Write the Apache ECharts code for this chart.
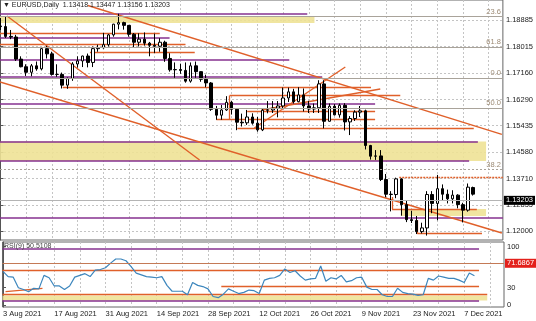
<!DOCTYPE html>
<html><head><meta charset="utf-8">
<script src="https://cdn.jsdelivr.net/npm/echarts@6/dist/echarts.min.js"></script>
<style>html,body{margin:0;padding:0;background:#fff}#c{width:536px;height:321px}</style>
</head><body><div id="c"></div>
<script>
// ---------- DATA (bar index 0 = 3 Aug 2021, daily bars) ----------
const xTickLabels = ['3 Aug 2021','17 Aug 2021','31 Aug 2021','14 Sep 2021','28 Sep 2021','12 Oct 2021','26 Oct 2021','9 Nov 2021','23 Nov 2021','7 Dec 2021'];
const priceTicks = [1.18885,1.18015,1.17160,1.16290,1.15435,1.14580,1.13710,1.12855,1.12000];
const rsiTicks = [0,30,100];

const opens = [1.1869,1.1867,1.1835,1.1833,1.1761,1.1736,1.1718,1.1739,1.1729,1.1795,
1.1778,1.1711,1.1711,1.1676,1.1698,1.1745,1.1755,1.1771,1.1750,1.1795,
1.1798,1.1808,1.1840,1.1875,1.1880,1.1871,1.1842,1.1816,1.1826,1.1813,
1.1806,1.1803,1.1816,1.1763,1.1726,1.1727,1.1724,1.1689,1.1739,1.1720,
1.1695,1.1683,1.1597,1.1578,1.1595,1.1620,1.1597,1.1555,1.1553,1.1572,
1.1552,1.1530,1.1594,1.1595,1.1601,1.1608,1.1634,1.1654,1.1622,1.1644,
1.1608,1.1598,1.1602,1.1680,1.1558,1.1607,1.1579,1.1610,1.1556,1.1567,
1.1588,1.1592,1.1479,1.1444,1.1445,1.1368,1.1320,1.1319,1.1370,1.1286,
1.1237,1.1234,1.1198,1.1210,1.1319,1.1290,1.1338,1.1320,1.1305,1.1317,
1.1286,1.1268,1.13418];
const highs = [1.1895,1.1900,1.1856,1.1840,1.1770,1.1744,1.1745,1.1753,1.1800,1.1804,
1.1785,1.1744,1.1717,1.1701,1.1751,1.1770,1.1772,1.1779,1.1802,1.1808,
1.1846,1.1843,1.1876,1.1909,1.1883,1.1872,1.1846,1.1845,1.1848,1.1817,
1.1844,1.1829,1.1821,1.1780,1.1750,1.1746,1.1750,1.1750,1.1753,1.1721,
1.1710,1.1686,1.1608,1.1611,1.1640,1.1624,1.1601,1.1583,1.1595,1.1584,
1.1572,1.1599,1.1624,1.1624,1.1624,1.1668,1.1668,1.1664,1.1669,1.1665,
1.1625,1.1616,1.1692,1.1692,1.1616,1.1614,1.1616,1.1617,1.1575,1.1594,
1.1608,1.1596,1.1481,1.1464,1.1464,1.1386,1.1330,1.1374,1.1372,1.1300,
1.1266,1.1249,1.1227,1.1330,1.1330,1.1383,1.1352,1.1335,1.1333,1.1320,
1.1292,1.1355,1.13447];
const lows = [1.1856,1.1830,1.1826,1.1755,1.1734,1.1706,1.1705,1.1723,1.1724,1.1763,
1.1707,1.1703,1.1665,1.1664,1.1690,1.1733,1.1735,1.1734,1.1735,1.1785,
1.1795,1.1802,1.1834,1.1858,1.1857,1.1834,1.1800,1.1802,1.1805,1.1770,
1.1781,1.1785,1.1752,1.1720,1.1700,1.1713,1.1684,1.1684,1.1700,1.1687,
1.1669,1.1592,1.1563,1.1563,1.1592,1.1580,1.1529,1.1541,1.1546,1.1547,
1.1524,1.1526,1.1584,1.1585,1.1571,1.1601,1.1621,1.1616,1.1620,1.1590,
1.1585,1.1585,1.1585,1.1535,1.1557,1.1577,1.1570,1.1528,1.1513,1.1559,
1.1572,1.1466,1.1433,1.1432,1.1363,1.1310,1.1264,1.1307,1.1250,1.1229,
1.1226,1.1190,1.1192,1.1185,1.1258,1.1235,1.1300,1.1290,1.1290,1.1274,
1.1228,1.1263,1.13156];
const closes = [1.1867,1.1835,1.1833,1.1761,1.1736,1.1718,1.1739,1.1729,1.1795,1.1778,
1.1711,1.1711,1.1676,1.1698,1.1745,1.1755,1.1771,1.1750,1.1795,1.1798,
1.1808,1.1840,1.1875,1.1880,1.1871,1.1842,1.1816,1.1826,1.1813,1.1806,
1.1803,1.1816,1.1763,1.1726,1.1727,1.1724,1.1689,1.1739,1.1720,1.1695,
1.1683,1.1597,1.1578,1.1595,1.1620,1.1597,1.1555,1.1553,1.1572,1.1552,
1.1530,1.1594,1.1595,1.1601,1.1608,1.1634,1.1654,1.1622,1.1644,1.1608,
1.1598,1.1602,1.1680,1.1558,1.1607,1.1579,1.1610,1.1556,1.1567,1.1588,
1.1592,1.1479,1.1444,1.1445,1.1368,1.1320,1.1319,1.1370,1.1286,1.1237,
1.1234,1.1198,1.1210,1.1319,1.1290,1.1338,1.1320,1.1305,1.1317,1.1286,
1.1268,1.1343,1.13203];
const rsi9 = [58,49,48,30,27,23,29,28,51,47,
33,33,27,33,48,51,54,49,60,61,
64,72,79,79,76,66,55,52,49,48,
47,49,34,24,24,24,18,39,34,32,
28,15,13,19,28,24,20,22,26,25,
20,43,46,47,51,62,56,59,50,43,
45,46,67,41,47,45,51,40,42,47,
48,31,27,27,18,15,15,29,22,20,
19,17,18,46,43,50,48,46,46,43,
39,55,50.5108];

// drawn objects (bar index, price)
const purpleLevels = [[-0.1,59.7,1.19081],[-0.1,32.9,1.18298],[-0.1,56.2,1.17580],[-0.1,62.6,1.17025],
  [-0.1,72.9,1.16167],[-0.1,92.9,1.14920],[-0.1,91.2,1.14284],[-0.1,97.77,1.12424]];
const orangeLevels = [[-0.1,31.0,1.18451],[-0.1,36.0,1.18102],[17.4,37.8,1.17841],[12.1,72.1,1.16682],
  [44.6,77.8,1.16421],[48.0,72.9,1.15916],[42.0,72.9,1.15645],[46.1,92.1,1.15338],
  [76.2,92.7,1.12718],[81.1,93.7,1.11918]];
const orangeDotted = [[77.6,97.77,1.13746]];
const orangeVerticals = [[44.6,1.16421,1.15645],[76.2,1.13109,1.12718],[81.1,1.12359,1.11918]];
const trendLines = [[1.26,1.19016,38.74,1.14317],[-0.1,1.16862,97.57,1.11935],[17.0,1.19358,97.57,1.15155],
  [49.4,1.15361,67.1,1.17352],[50.8,1.15948,73.9,1.16633]];
const fibLevels = [[1.18582,'23.6'],[1.18255,'61.8'],[1.17090,'0.0'],[1.16014,'50.0'],[1.13746,'38.2']];
const zones = [[-0.1,61.1,1.19016,1.18787],[-0.1,94.5,1.14920,1.14284],[77.9,94.5,1.12718,1.12489]];
const rsiPurple = [[-0.1,92.9,96],[-0.1,92.9,7.3]];
const rsiOrange = [[-0.1,92.9,60.2],[42.6,92.9,32],[-0.1,94.5,18.8]];
const rsiSlant = [[0.5,23.2,7.7,29]];
const rsiZones = [[-0.1,94.5,16.7,8.2]];
const rsiLevel = 71.6867;

// ---------- LAYOUT / STYLE ----------
const X_MIN = -0.1, X_MAX = 97.77;
const FONT = 'Liberation Sans, Arial, sans-serif';
const C = {purple:'#86308f', orange:'#e0602a', yellow:'rgba(238,226,150,0.9)', fib:'#a9a39a',
  grid:'#c4c4c4', rsi:'#3c86bd', brown:'#c47a56', text:'#222'};
const gridBars = []; for (let b = 0; b <= 95; b += 5) gridBars.push(b);
const labelBars = xTickLabels.map((_, k) => k * 10);

const candleData = opens.map((o, i) => [i, o, closes[i], lows[i], highs[i]]);
const rsiData = rsi9.map((v, i) => [i, v]);

function hSeg(list, color, extra) {
  return list.map(([s, e, p]) => ({coords: [[s, p], [e, p]], lineStyle: Object.assign({color, opacity: 1}, extra || {})}));
}
const mainLines = [].concat(
  hSeg(purpleLevels, C.purple, {width: 1.5}),
  hSeg(orangeLevels, C.orange, {width: 1.3}),
  hSeg(orangeDotted, C.orange, {width: 1.3, type: [2, 1]}),
  orangeVerticals.map(([b, p1, p2]) => ({coords: [[b, p1], [b, p2]], lineStyle: {color: C.orange, width: 1.3, opacity: 1}})),
  trendLines.map(([b1, p1, b2, p2]) => ({coords: [[b1, p1], [b2, p2]], lineStyle: {color: C.orange, width: 1.4, opacity: 1}}))
);
const rsiLinesData = [].concat(
  hSeg(rsiPurple, C.purple, {width: 1.5}),
  hSeg(rsiOrange, C.orange, {width: 1.3}),
  rsiSlant.map(([b1, v1, b2, v2]) => ({coords: [[b1, v1], [b2, v2]], lineStyle: {color: C.orange, width: 1.3, opacity: 1}}))
);

function zoneSeries(data, xi, yi) {
  return {type: 'custom', xAxisIndex: xi, yAxisIndex: yi, z: 1, silent: true, data,
    encode: {x: [0, 1], y: [2, 3]},
    renderItem(params, api) {
      const a = api.coord([api.value(0), api.value(2)]);
      const b = api.coord([api.value(1), api.value(3)]);
      return {type: 'rect', shape: {x: a[0], y: a[1], width: b[0] - a[0], height: b[1] - a[1]}, style: {fill: C.yellow}};
    }};
}

const chart = echarts.init(document.getElementById('c'));
const axisFont = {fontSize: 7.5, color: C.text, fontFamily: FONT};
chart.setOption({
  animation: false,
  backgroundColor: '#ffffff',
  grid: [
    {left: 0, right: 32, top: 0, height: 240, show: true, borderColor: '#666', borderWidth: 1},
    {left: 0, right: 32, top: 242, height: 65, show: true, borderColor: '#666', borderWidth: 1}
  ],
  xAxis: [
    {type: 'value', gridIndex: 0, min: X_MIN, max: X_MAX, axisLine: {show: false},
      axisTick: {show: false, customValues: gridBars}, axisLabel: {show: false},
      splitLine: {show: true, lineStyle: {color: C.grid, type: [2, 2], width: 1}}},
    {type: 'value', gridIndex: 1, min: X_MIN, max: X_MAX, axisLine: {show: false},
      axisTick: {show: false, customValues: gridBars},
      axisLabel: Object.assign({show: true, customValues: labelBars, align: 'left', margin: 3,
        formatter: v => xTickLabels[Math.round(v / 10)] || ''}, axisFont),
      splitLine: {show: true, lineStyle: {color: C.grid, type: [2, 2], width: 1}}}
  ],
  yAxis: [
    {type: 'value', gridIndex: 0, position: 'right', min: 1.11706, max: 1.19538, scale: true,
      axisLine: {show: true, lineStyle: {color: '#555'}},
      axisTick: {show: true, length: 3, customValues: priceTicks, lineStyle: {color: '#555'}},
      axisLabel: Object.assign({customValues: priceTicks, margin: 3, formatter: v => v.toFixed(5)}, axisFont),
      splitLine: {show: true, lineStyle: {color: C.grid, type: [2, 2], width: 1}}},
    {type: 'value', gridIndex: 1, position: 'right', min: -2.9, max: 108,
      axisLine: {show: true, lineStyle: {color: '#555'}},
      axisTick: {show: true, length: 3, customValues: rsiTicks, lineStyle: {color: '#555'}},
      axisLabel: Object.assign({customValues: rsiTicks, margin: 3, formatter: v => String(v)}, axisFont),
      splitLine: {show: false}}
  ],
  graphic: [
    {type: 'text', left: 3, top: 2, z: 100, style: {text: '\u25BC EURUSD,Daily  1.13418 1.13447 1.13156 1.13203',
      fontSize: 7, fontFamily: FONT, fill: '#222'}},
    {type: 'text', left: 4, top: 243, z: 100, style: {text: 'RSI(9) 50.5108', fontSize: 7, fontFamily: FONT, fill: '#444'}}
  ],
  series: [
    zoneSeries(zones, 0, 0),
    zoneSeries(rsiZones, 1, 1),
    {type: 'lines', coordinateSystem: 'cartesian2d', xAxisIndex: 0, yAxisIndex: 0, z: 2, silent: true,
      polyline: false, lineStyle: {opacity: 1}, data: mainLines},
    {type: 'lines', coordinateSystem: 'cartesian2d', xAxisIndex: 1, yAxisIndex: 1, z: 2, silent: true,
      polyline: false, lineStyle: {opacity: 1}, data: rsiLinesData},
    {type: 'candlestick', xAxisIndex: 0, yAxisIndex: 0, z: 3, barWidth: 3,
      encode: {x: 0, y: [1, 2, 3, 4]}, data: candleData,
      itemStyle: {color: '#ffffff', color0: '#000000', borderColor: '#000000', borderColor0: '#000000', borderWidth: 1},
      markLine: {silent: true, symbol: ['none', 'none'], animation: false,
        data: fibLevels.map(([p, t]) => ({yAxis: p,
          lineStyle: {color: C.fib, width: 1, type: t === '38.2' ? [2, 2] : 'solid'},
          label: {show: true, position: 'insideEndTop', formatter: t, distance: [2, 1], fontSize: 7.5, fontFamily: FONT, color: '#9c8a74'}}))
          .concat([{yAxis: closes[closes.length - 1], lineStyle: {color: '#b4b4b4', width: 1, type: 'solid'},
            label: {show: true, position: 'end', distance: 1, formatter: closes[closes.length - 1].toFixed(5),
              backgroundColor: '#000', color: '#fff', padding: [1, 2, 0, 2], fontSize: 7.5, fontFamily: FONT}}])
      }},
    {type: 'line', xAxisIndex: 1, yAxisIndex: 1, z: 4, data: rsiData, showSymbol: false, silent: true,
      lineStyle: {color: C.rsi, width: 1.2},
      markLine: {silent: true, symbol: ['none', 'none'], animation: false,
        data: [{yAxis: rsiLevel, lineStyle: {color: C.brown, width: 1.2, type: 'solid'},
          label: {show: true, position: 'end', distance: 1, formatter: rsiLevel.toFixed(4),
            backgroundColor: '#e3201b', color: '#fff', padding: [1, 2, 0, 2], fontSize: 7.5, fontFamily: FONT}}]}}
  ]
});
</script></body></html>
